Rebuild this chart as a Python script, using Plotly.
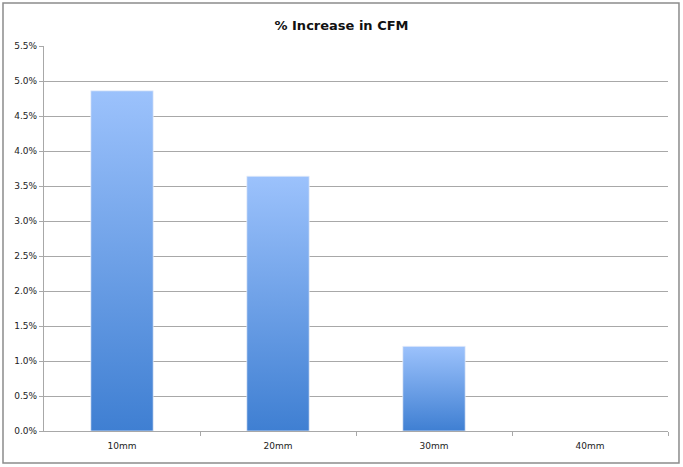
import plotly.graph_objects as go

# Dados
categorias = ['10mm', '20mm', '30mm', '40mm']
aumento_cfm = [0.0486, 0.0364, 0.0121, 0.0]
ticks_y = [0.0, 0.005, 0.010, 0.015, 0.020, 0.025, 0.030, 0.035, 0.040, 0.045, 0.050, 0.055]

largura = 0.4
cinza = '#a8a8a8'

figura = go.Figure()

# Cada barra como área preenchida com degradê vertical
for i, valor in enumerate(aumento_cfm):
    if valor <= 0:
        continue
    figura.add_trace(go.Scatter(
        x=[i - largura / 2, i - largura / 2, i + largura / 2, i + largura / 2, i - largura / 2],
        y=[0, valor, valor, 0, 0],
        mode='lines',
        line=dict(width=0.8, color='rgba(235,240,250,0.9)'),
        fill='toself',
        fillgradient=dict(type='vertical',
                          colorscale=[[0, '#3f7fd2'], [1, '#9cc2fc']]),
        name=categorias[i],
        showlegend=False,
        hoverinfo='skip',
    ))

figura.update_layout(
    width=683, height=467,
    margin=dict(l=44, r=15, t=46, b=36, autoexpand=False),
    paper_bgcolor='white', plot_bgcolor='white',
    title=dict(text='<b>% Increase in CFM</b>', x=0.5, xanchor='center',
               y=0.945, yanchor='middle',
               font=dict(family='DejaVu Sans', size=13, color='#111')),
    font=dict(family='DejaVu Sans', size=9, color='#222'),
    showlegend=False,
)

figura.update_xaxes(
    range=[-0.5, len(categorias) - 0.5],
    tickmode='array', tickvals=list(range(len(categorias))), ticktext=categorias,
    ticks='', showgrid=False, zeroline=False, automargin=False,
    showline=True, linecolor=cinza, linewidth=1.2,
    minor=dict(tickmode='array', tickvals=[i + 0.5 for i in range(len(categorias))],
               ticks='outside', ticklen=4, tickcolor=cinza, showgrid=False),
    ticklabelstandoff=6,
)

figura.update_yaxes(
    range=[0, 0.055],
    tickmode='array', tickvals=ticks_y, tickformat='.1%',
    ticks='outside', ticklen=4, tickcolor=cinza, automargin=False,
    showgrid=True, gridcolor=cinza, gridwidth=1.2,
    zeroline=False, showline=True, linecolor=cinza, linewidth=1.2,
)

# Moldura externa do gráfico
figura.add_shape(type='rect', xref='paper', yref='paper',
                 x0=-0.0657, x1=1.0176, y0=-0.0831, y1=1.1117,
                 line=dict(color='#8c8c8c', width=1.5), fillcolor='rgba(0,0,0,0)')

# tira a margem padrão da página para o gráfico ocupar a janela toda
figura.write_html('out.html', config={'displayModeBar': False},
                  post_script="document.body.style.margin='0';")
